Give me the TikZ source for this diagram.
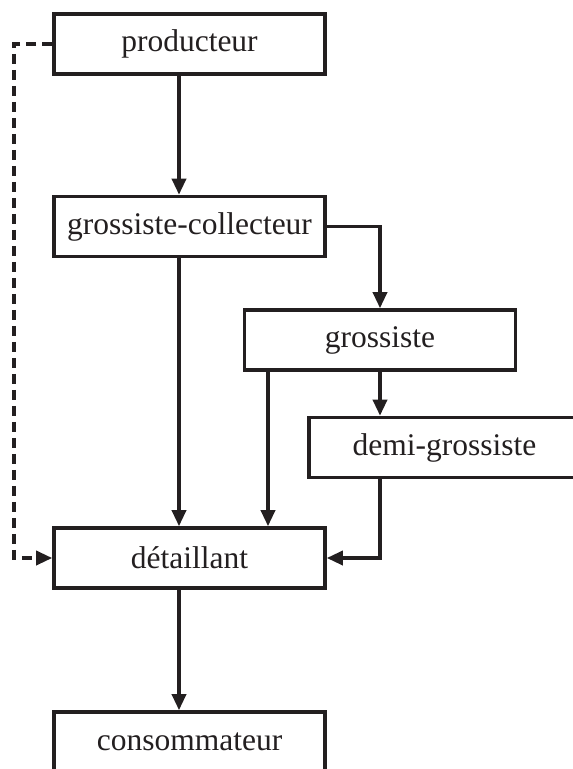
\documentclass[tikz,border=0pt]{standalone}
\usepackage{fontspec}
\setmainfont{Liberation Serif}
\usepackage{xcolor}
\usepackage{tikz}
\usetikzlibrary{arrows.meta, positioning, calc}
\definecolor{ink}{RGB}{35,31,32}

\begin{document}
\begin{tikzpicture}[
  x=1pt, y=-1pt,
  font=\fontsize{31.5}{36}\selectfont,
  stage/.style={rectangle, draw=ink, line width=3.6pt, text=ink,
                minimum width=271pt, minimum height=60pt, inner sep=0pt},
  arr/.style={-{Triangle[length=16pt, width=14pt]}, draw=ink, line width=3.4pt},
  dsh/.style={arr, dash pattern=on 10pt off 6pt}
]
\clip (0,0) rectangle (573,769);
%% nodes (main column centred at x=189.5)
\node[stage] (prod) at (189.5, 44)    {producteur};
\node[stage] (coll) at (189.5, 226.5) {grossiste-collecteur};
\node[stage] (gros) at (380, 340)     {grossiste};
\node[stage] (demi) at (444.5, 447.5) {demi-grossiste};
\node[stage] (det)  at (189.5, 558)   {d\'etaillant};
\node[stage] (cons) at (189.5, 742)   {consommateur};
%% helper coordinates for the off-centre arrows
\coordinate (p_out) at ([xshift=-10.5pt]prod.south);
\coordinate (c_out) at ([xshift=-10.5pt]coll.south);
\coordinate (g_out) at ([xshift=-112pt]gros.south);
\coordinate (t_out) at ([xshift=-10.5pt]det.south);
\coordinate (side)  at (14, 300);
%% arrows
\draw[arr] (p_out) -- (p_out |- coll.north);
\draw[arr] (c_out) -- (c_out |- det.north);
\draw[arr] (coll.east) -| (gros.north);
\draw[arr] (gros.south) -- (gros.south |- demi.north);
\draw[arr] (g_out) -- (g_out |- det.north);
\draw[arr] (demi.south -| gros.south) |- (det.east);
\draw[arr] (t_out) -- (t_out |- cons.north);
%% direct sale: dashed bypass on the left
\draw[dsh] (prod.west) -- (prod.west -| side) -- (det.west -| side) -- (det.west);
\end{tikzpicture}
\end{document}
